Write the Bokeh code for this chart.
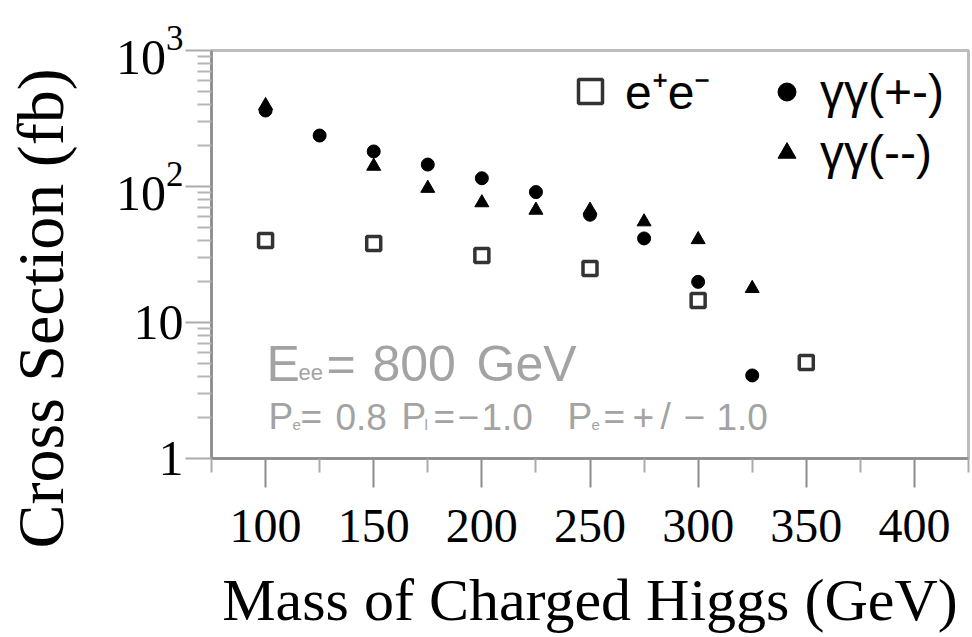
from bokeh.plotting import figure
from bokeh.models import FixedTicker, Label, Legend, LegendItem, Title, LogTickFormatter
from bokeh.embed import file_html
from bokeh.resources import INLINE

# ---------------- data ----------------
mass_ee = [100, 150, 200, 250, 300, 350]
xsec_ee = [40.1, 38.1, 31.1, 25.0, 14.5, 5.08]

mass_pm = [100, 125, 150, 175, 200, 225, 250, 275, 300, 325]
xsec_pm = [362, 237, 181, 145, 115, 91, 62, 41.5, 19.9, 4.08]

mass_mm = [100, 150, 175, 200, 225, 250, 275, 300, 325]
xsec_mm = [394, 141, 97, 76, 67, 67, 55, 40.7, 17.8]

x_major = [100, 150, 200, 250, 300, 350, 400]
x_minor = [75, 125, 175, 225, 275, 325, 375, 425]
y_major = [1, 10, 100, 1000]
y_minor = [2, 3, 4, 5, 6, 7, 8, 9, 20, 30, 40, 50, 60, 70, 80, 90,
           200, 300, 400, 500, 600, 700, 800, 900]
y_plain_labels = {1: "1", 10: "10"}

x_title = "Mass of Charged Higgs (GeV)"
y_title = "Cross Section (fb)"
name_ee = "e\u207ae\u207b"
name_pm = "\u03b3\u03b3(+-)"
name_mm = "\u03b3\u03b3(--)"

# ---------------- layout ----------------
W, H = 972, 637
FL, FR, FT, FB = 211, 968, 50, 458
X0, X1 = 75, 425
Y0, Y1 = 1, 1000

p = figure(width=W, height=H, x_range=(X0, X1), y_range=(Y0, Y1),
           y_axis_type="log", output_backend="svg", toolbar_location=None,
           min_border_left=FL, min_border_right=W - FR,
           min_border_top=FT, min_border_bottom=H - FB)
p.background_fill_color = "white"
p.border_fill_color = "white"
p.grid.visible = False
p.outline_line_color = "#bdbdbd"
p.outline_line_width = 3


def dx(px):
    return X0 + (px - FL) * (X1 - X0) / (FR - FL)


def dy(py):
    return 10 ** ((FB - py) / (FB - FT) * 3)


# x axis
xa = p.xaxis[0]
xa.ticker = FixedTicker(ticks=x_major, minor_ticks=x_minor)
xa.axis_line_color = "#8a8a8a"
xa.axis_line_width = 2.5
xa.major_tick_out = 29
xa.major_tick_in = 0
xa.minor_tick_out = 14
xa.minor_tick_in = 0
xa.major_tick_line_color = "#8c8c8c"
xa.major_tick_line_width = 2
xa.minor_tick_line_color = "#ababab"
xa.minor_tick_line_width = 2
xa.major_label_text_font = "Liberation Serif"
xa.major_label_text_font_size = "48px"
xa.major_label_text_color = "black"
xa.major_label_standoff = 22
xa.axis_label = x_title
xa.axis_label_text_font = "Liberation Serif"
xa.axis_label_text_font_size = "60px"
xa.axis_label_text_font_style = "normal"
xa.axis_label_text_color = "black"
xa.axis_label_standoff = 22

# y axis
ya = p.yaxis[0]
ya.ticker = FixedTicker(ticks=y_major, minor_ticks=y_minor)
ya.formatter = LogTickFormatter(min_exponent=1)
ya.major_label_overrides = y_plain_labels
ya.axis_line_color = "#8a8a8a"
ya.axis_line_width = 2.5
ya.major_tick_out = 26
ya.major_tick_in = 0
ya.minor_tick_out = 14
ya.minor_tick_in = 0
ya.major_tick_line_color = "#ababab"
ya.major_tick_line_width = 2
ya.minor_tick_line_color = "#b5b5b5"
ya.minor_tick_line_width = 2
ya.major_label_text_font = "Liberation Serif"
ya.major_label_text_font_size = "50px"
ya.major_label_text_color = "black"
ya.major_label_standoff = 2
# empty spacer label, keeps the title clear of the tick labels
ya.axis_label = "\u00a0"
ya.axis_label_text_font_size = "10px"
ya.axis_label_standoff = 22

# y title, placed along the left side
p.add_layout(Title(text=y_title, align="left", offset=-90,
                   vertical_align="bottom", standoff=0,
                   text_font="Liberation Serif", text_font_size="66px",
                   text_font_style="normal", text_color="black"), "left")

# ---------------- series ----------------
r_ee = p.scatter(mass_ee, xsec_ee, marker="square", size=14,
                 fill_color="white", line_color="#333333", line_width=3.5)
r_pm = p.scatter(mass_pm, xsec_pm, marker="circle", size=13,
                 fill_color="black", line_color="black")
r_mm = p.scatter(mass_mm, xsec_mm, marker="triangle", size=14,
                 fill_color="black", line_color="black")

# ---------------- legends ----------------
leg1 = Legend(items=[LegendItem(label=name_ee, renderers=[r_ee])],
              location=(560 - FL, FB - 123), orientation="vertical",
              glyph_width=60, glyph_height=60, label_standoff=5,
              padding=0, margin=0, spacing=0,
              border_line_alpha=0, background_fill_alpha=0,
              label_text_font="Liberation Sans", label_text_font_size="48px",
              label_text_color="black")
leg2 = Legend(items=[LegendItem(label=name_pm, renderers=[r_pm]),
                     LegendItem(label=name_mm, renderers=[r_mm])],
              location=(764 - FL, FB - 180), orientation="vertical",
              glyph_width=45, glyph_height=45, label_standoff=11,
              padding=0, margin=0, spacing=6,
              border_line_alpha=0, background_fill_alpha=0,
              label_text_font="Liberation Sans", label_text_font_size="48px",
              label_text_color="black")
p.add_layout(leg1)
p.add_layout(leg2)

# ---------------- annotation text ----------------
GRAY = "#a3a3a3"
notes = [
    ("E", 266, 363, 50), ("ee", 298, 372, 22), ("=", 326, 363, 50),
    ("800", 372, 363, 50), ("GeV", 476, 363, 50),
    ("P", 268, 416, 37), ("e", 292, 424, 15), ("=", 300, 416, 37),
    ("0.8", 335, 416, 37),
    ("P", 401, 416, 37), ("l", 424, 424, 15), ("=", 433, 416, 37),
    ("\u2212", 457, 416, 37), ("1.0", 481, 416, 37),
    ("P", 567, 416, 37), ("e", 591, 424, 15), ("=", 603, 416, 37),
    ("+", 632, 416, 37), ("/", 660, 416, 37), ("\u2212", 683, 416, 37),
    ("1.0", 716, 416, 37),
]
for txt, px, py, sz in notes:
    p.add_layout(Label(x=dx(px), y=dy(py), text=txt,
                       text_font="Liberation Sans", text_font_size=f"{sz}px",
                       text_color=GRAY, text_align="left",
                       text_baseline="alphabetic"))

open("out.html", "w").write(file_html(p, INLINE))
